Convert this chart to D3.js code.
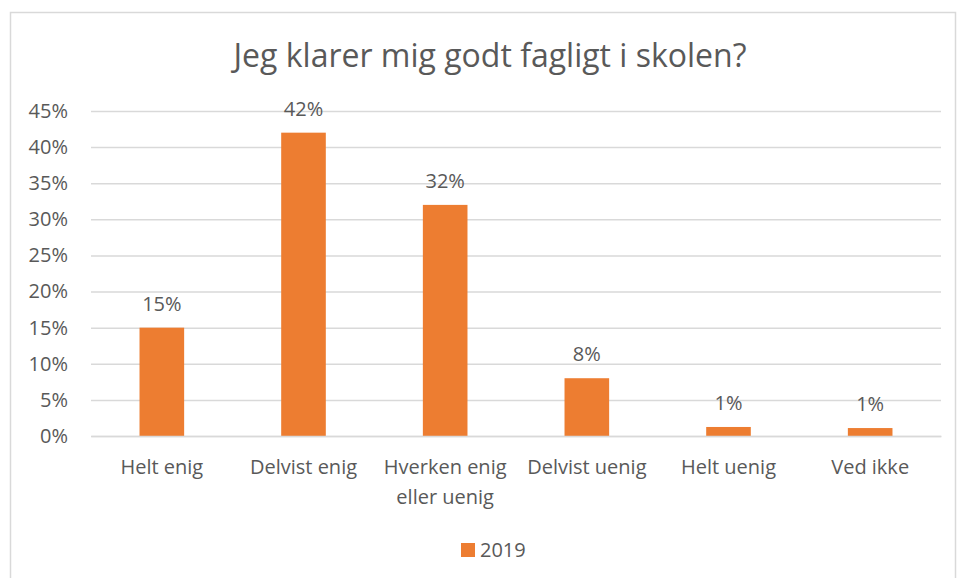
<!DOCTYPE html>
<html>
<head>
<meta charset="utf-8">
<script src="https://cdn.jsdelivr.net/npm/d3@7"></script>
<style>
    body { margin: 0; background: #fff; }
    text { font-family: "Open Sans", sans-serif; fill: #595959; }
</style>
</head>
<body>
<div id="chart"></div>
<script>
// data
var categories = ["Helt enig", "Delvist enig", "Hverken enig eller uenig", "Delvist uenig", "Helt uenig", "Ved ikke"];
var values2019 = [15, 42, 32, 8, 1.25, 1.1];
var yTicks = [0, 5, 10, 15, 20, 25, 30, 35, 40, 45];
var seriesName = "2019";
var title = "Jeg klarer mig godt fagligt i skolen?";

var width = 958;
var height = 578;
var margin = { left: 91, right: 17, top: 111, bottom: 142 };
var barColor = "#ed7d31";
var gridColor = "#d9d9d9";

var svg = d3.select("#chart").append("svg")
    .attr("width", width)
    .attr("height", height);

// chart frame
svg.append("rect")
    .attr("x", 10.5)
    .attr("y", 12.5)
    .attr("width", 945)
    .attr("height", 580)
    .attr("fill", "none")
    .attr("stroke", gridColor)
    .attr("stroke-width", 1.5);

svg.append("text")
    .attr("x", 490)
    .attr("y", 67)
    .attr("text-anchor", "middle")
    .style("font-size", "32px")
    .text(title);

var x = d3.scaleBand()
    .domain(categories)
    .range([margin.left, width - margin.right])
    .paddingInner(0.685)
    .paddingOuter(0.3425);

var y = d3.scaleLinear()
    .domain([0, 45])
    .range([height - margin.bottom, margin.top]);

// gridlines + y labels
var yAxis = d3.axisLeft(y)
    .tickValues(yTicks)
    .tickSize(-(width - margin.left - margin.right))
    .tickPadding(23)
    .tickFormat(function (d) { return d + "%"; });

var gy = svg.append("g")
    .attr("transform", "translate(" + margin.left + ",0)")
    .call(yAxis);
gy.select(".domain").remove();
gy.selectAll(".tick line")
    .attr("stroke", gridColor)
    .attr("stroke-width", 1.5);
gy.selectAll(".tick text")
    .style("font-size", "20px")
    .attr("fill", "#595959");

// bars
svg.selectAll(".bar")
    .data(values2019)
    .enter()
    .append("rect")
    .attr("class", "bar")
    .attr("x", function (d, i) { return x(categories[i]); })
    .attr("y", function (d) { return y(d); })
    .attr("width", x.bandwidth())
    .attr("height", function (d) { return y(0) - y(d); })
    .attr("fill", barColor);

// value labels
svg.selectAll(".val")
    .data(values2019)
    .enter()
    .append("text")
    .attr("class", "val")
    .attr("x", function (d, i) { return x(categories[i]) + x.bandwidth() / 2; })
    .attr("y", function (d) { return y(d) - 17; })
    .attr("text-anchor", "middle")
    .style("font-size", "20px")
    .text(function (d) { return Math.round(d) + "%"; });

// x axis
var xAxis = d3.axisBottom(x).tickSize(0).tickPadding(0);
var gx = svg.append("g")
    .attr("transform", "translate(0," + y(0) + ")")
    .call(xAxis);
gx.select(".domain")
    .attr("stroke", gridColor)
    .attr("stroke-width", 1.5);
gx.selectAll(".tick text").remove();
gx.selectAll(".tick").each(function (d) {
    var t = d3.select(this).append("text")
        .attr("text-anchor", "middle")
        .attr("y", 38)
        .style("font-size", "20px");
    var words = d.split(" ");
    var line = [];
    var lineNo = 0;
    var tspan = t.append("tspan").attr("x", 0).attr("dy", 0);
    words.forEach(function (w) {
        line.push(w);
        tspan.text(line.join(" "));
        if (tspan.node().getComputedTextLength() > x.step() - 8 && line.length > 1) {
            line.pop();
            tspan.text(line.join(" "));
            line = [w];
            lineNo++;
            tspan = t.append("tspan").attr("x", 0).attr("dy", 30).text(w);
        }
    });
});

// legend
var legend = svg.append("g").attr("transform", "translate(461,543)");
legend.append("rect")
    .attr("width", 14)
    .attr("height", 14)
    .attr("fill", barColor);
legend.append("text")
    .attr("x", 19)
    .attr("y", 14)
    .style("font-size", "20px")
    .text(seriesName);
</script>
</body>
</html>
